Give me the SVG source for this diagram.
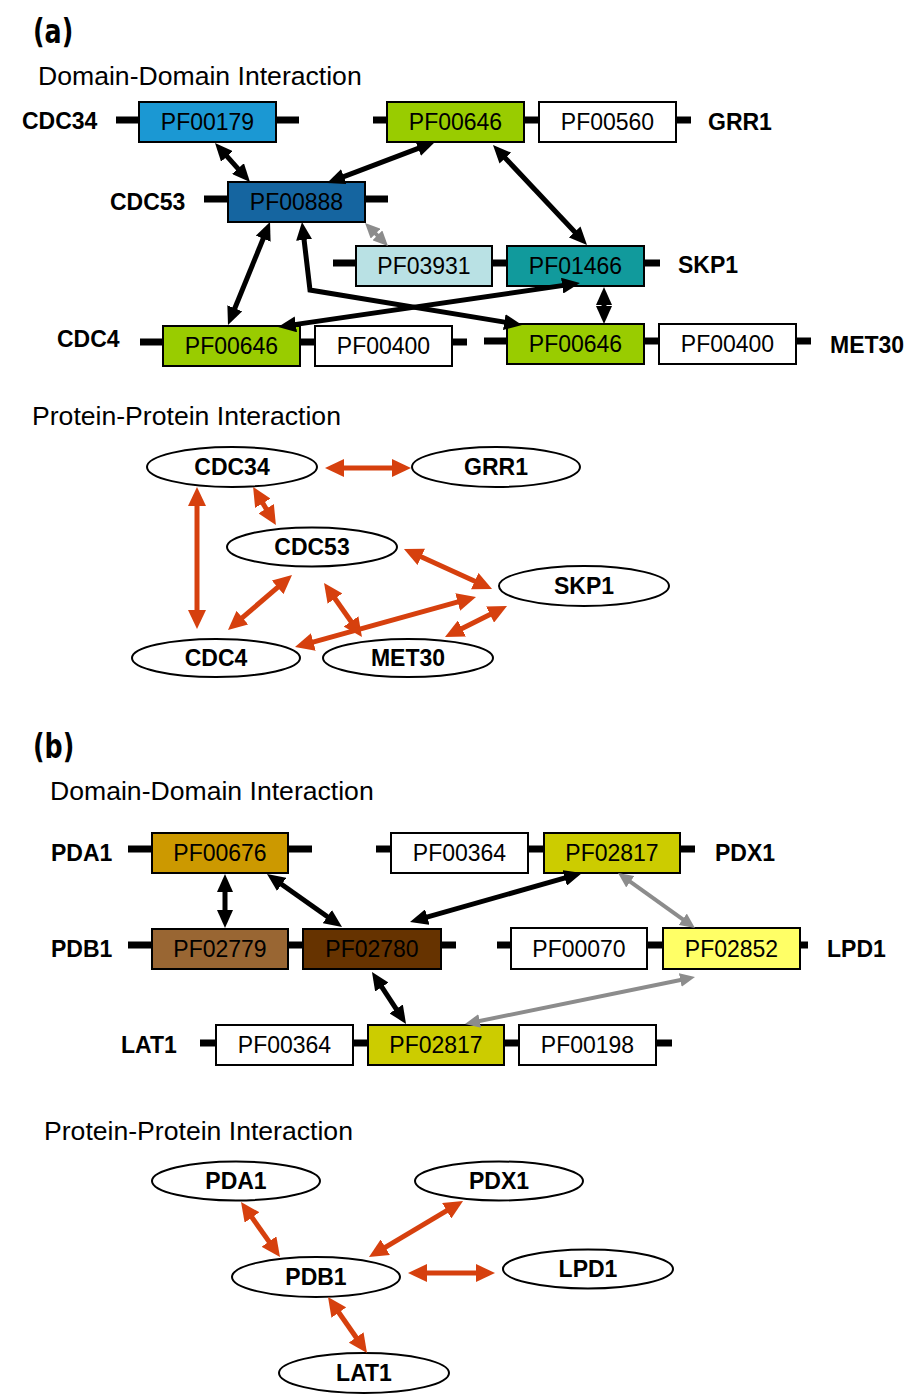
<svg xmlns="http://www.w3.org/2000/svg" width="914" height="1400" viewBox="0 0 914 1400">
<style>
.bg{fill:#fff}
.panel{font-family:"DejaVu Sans Condensed","DejaVu Sans",sans-serif;font-weight:bold;font-size:32px;fill:#000}
.title{font-family:"Liberation Sans",Arial,sans-serif;font-size:26.6px;fill:#000}
.lbl{font-family:"Liberation Sans",Arial,sans-serif;font-weight:bold;font-size:23px;fill:#000}
.dom{font-family:"Liberation Sans",Arial,sans-serif;font-size:23px;fill:#000;text-anchor:middle}
.plbl{font-family:"Liberation Sans",Arial,sans-serif;font-weight:bold;font-size:23px;fill:#000;text-anchor:middle}
.bb{fill:#000}
.box{stroke:#000;stroke-width:2}
.ell{fill:#fff;stroke:#000;stroke-width:2}
.ab{fill:none;stroke:#000;stroke-width:5;marker-start:url(#hb);marker-end:url(#hb)}
.ag{fill:none;stroke:#8c8c8c;stroke-width:4;marker-start:url(#hg);marker-end:url(#hg)}
.ao{fill:none;stroke:#d6400e;stroke-width:5;marker-start:url(#ho);marker-end:url(#ho)}
</style>
<defs>
<marker id="hb" viewBox="0 0 18 16" refX="5" refY="8" markerWidth="18" markerHeight="16" markerUnits="userSpaceOnUse" orient="auto-start-reverse"><path d="M0,0 L18,8 L0,16 z" fill="#000"/></marker>
<marker id="hg" viewBox="0 0 15 14" refX="4" refY="7" markerWidth="15" markerHeight="14" markerUnits="userSpaceOnUse" orient="auto-start-reverse"><path d="M0,0 L15,7 L0,14 z" fill="#8c8c8c"/></marker>
<marker id="ho" viewBox="0 0 19 18" refX="5" refY="9" markerWidth="19" markerHeight="18" markerUnits="userSpaceOnUse" orient="auto-start-reverse"><path d="M0,0 L19,9 L0,18 z" fill="#d6400e"/></marker>
</defs>
<rect class="bg" x="0" y="0" width="914" height="1400"/>

<text class="panel" transform="translate(33,43) scale(0.88,1.05)">(a)</text>
<text class="title" x="38" y="85">Domain-Domain Interaction</text>

<g id="CDC34">
<rect class="bb" x="116" y="116.5" width="183" height="7"/>
<rect class="box" x="139" y="102" width="137" height="40" fill="#1b98d3"/>
<text class="dom" x="207.5" y="130">PF00179</text>
<text class="lbl" x="22" y="129">CDC34</text>
</g>
<g id="GRR1">
<rect class="bb" x="373" y="116.5" width="318" height="7"/>
<rect class="box" x="387" y="102" width="137" height="40" fill="#99cc00"/>
<text class="dom" x="455.5" y="130">PF00646</text>
<rect class="box" x="539" y="102" width="137" height="40" fill="#fff"/>
<text class="dom" x="607.5" y="130">PF00560</text>
<text class="lbl" x="708" y="130">GRR1</text>
</g>
<g id="CDC53">
<rect class="bb" x="204" y="195.5" width="184" height="7"/>
<rect class="box" x="228" y="182" width="137" height="40" fill="#1565a0"/>
<text class="dom" x="296.5" y="210">PF00888</text>
<text class="lbl" x="110" y="210">CDC53</text>
</g>
<g id="SKP1">
<rect class="bb" x="333" y="259.5" width="327" height="7"/>
<rect class="box" x="356" y="246" width="136" height="40" fill="#b9e1e4"/>
<text class="dom" x="424" y="274">PF03931</text>
<rect class="box" x="507" y="246" width="137" height="40" fill="#119a9c"/>
<text class="dom" x="575.5" y="274">PF01466</text>
<text class="lbl" x="678" y="273">SKP1</text>
</g>
<g id="CDC4">
<rect class="bb" x="140" y="338.5" width="327" height="7"/>
<rect class="box" x="163" y="326" width="137" height="40" fill="#99cc00"/>
<text class="dom" x="231.5" y="354">PF00646</text>
<rect class="box" x="315" y="326" width="137" height="40" fill="#fff"/>
<text class="dom" x="383.5" y="354">PF00400</text>
<text class="lbl" x="57" y="347">CDC4</text>
</g>
<g id="MET30">
<rect class="bb" x="484" y="337.5" width="327" height="7"/>
<rect class="box" x="507" y="324" width="137" height="40" fill="#99cc00"/>
<text class="dom" x="575.5" y="352">PF00646</text>
<rect class="box" x="659" y="324" width="137" height="40" fill="#fff"/>
<text class="dom" x="727.5" y="352">PF00400</text>
<text class="lbl" x="830" y="353">MET30</text>
</g>

<g id="connectors-a-ddi">
<path class="ab" d="M223.7,152.7 L241.3,172.3"/>
<path class="ab" d="M422.8,146.6 L339.2,178.4"/>
<path class="ab" d="M501.9,154.5 L578.1,235.5"/>
<path class="ab" d="M265.1,234 L232.9,313"/>
<path class="ab" d="M303.5,234.9 L310,290 L509.2,322.9"/>
<path class="ab" d="M567.1,284.9 L290.9,325.1"/>
<path class="ab" d="M604,300 L604,311"/>
<path class="ag" d="M372.8,230.8 L380.2,238.2"/>
</g>

<text class="title" x="32" y="425">Protein-Protein Interaction</text>

<g id="p-CDC34"><ellipse class="ell" cx="232" cy="467" rx="85" ry="20"/><text class="plbl" x="232" y="475">CDC34</text></g>
<g id="p-GRR1"><ellipse class="ell" cx="496" cy="467" rx="84" ry="20"/><text class="plbl" x="496" y="475">GRR1</text></g>
<g id="p-CDC53"><ellipse class="ell" cx="312" cy="547" rx="85" ry="19.5"/><text class="plbl" x="312" y="555">CDC53</text></g>
<g id="p-SKP1"><ellipse class="ell" cx="584" cy="586" rx="85" ry="20"/><text class="plbl" x="584" y="594">SKP1</text></g>
<g id="p-CDC4"><ellipse class="ell" cx="216" cy="658" rx="84" ry="19"/><text class="plbl" x="216" y="666">CDC4</text></g>
<g id="p-MET30"><ellipse class="ell" cx="408" cy="658" rx="85" ry="19"/><text class="plbl" x="408" y="666">MET30</text></g>

<g id="connectors-a-ppi">
<path class="ao" d="M339,468 L397,468"/>
<path class="ao" d="M260.3,499 L268.7,513"/>
<path class="ao" d="M197,501 L197,615"/>
<path class="ao" d="M416.7,554.8 L479.3,583.2"/>
<path class="ao" d="M281.4,584.1 L238.6,620.9"/>
<path class="ao" d="M332.1,594.5 L353.9,625.5"/>
<path class="ao" d="M308.5,643.3 L462.5,600.7"/>
<path class="ao" d="M457.5,630.7 L494.5,612.3"/>
</g>

<text class="panel" transform="translate(33,758) scale(0.88,1.05)">(b)</text>
<text class="title" x="50" y="800">Domain-Domain Interaction</text>

<g id="PDA1">
<rect class="bb" x="128" y="845.5" width="184" height="7"/>
<rect class="box" x="152" y="833" width="136" height="40" fill="#cc9900"/>
<text class="dom" x="220" y="861">PF00676</text>
<text class="lbl" x="51" y="861">PDA1</text>
</g>
<g id="PDX1">
<rect class="bb" x="376" y="845.5" width="319" height="7"/>
<rect class="box" x="391" y="833" width="137" height="40" fill="#fff"/>
<text class="dom" x="459.5" y="861">PF00364</text>
<rect class="box" x="544" y="833" width="136" height="40" fill="#cccc00"/>
<text class="dom" x="612" y="861">PF02817</text>
<text class="lbl" x="715" y="861">PDX1</text>
</g>
<g id="PDB1">
<rect class="bb" x="128" y="941.5" width="328" height="7"/>
<rect class="box" x="152" y="929" width="136" height="40" fill="#996633"/>
<text class="dom" x="220" y="957">PF02779</text>
<rect class="box" x="303" y="929" width="138" height="40" fill="#663300"/>
<text class="dom" x="372" y="957">PF02780</text>
<text class="lbl" x="51" y="957">PDB1</text>
</g>
<g id="LPD1">
<rect class="bb" x="497" y="941.5" width="311" height="7"/>
<rect class="box" x="511" y="928" width="136" height="41" fill="#fff"/>
<text class="dom" x="579" y="957">PF00070</text>
<rect class="box" x="663" y="928" width="137" height="41" fill="#ffff66"/>
<text class="dom" x="731.5" y="957">PF02852</text>
<text class="lbl" x="827" y="957">LPD1</text>
</g>
<g id="LAT1">
<rect class="bb" x="200" y="1039.5" width="472" height="7"/>
<rect class="box" x="216" y="1025" width="137" height="40" fill="#fff"/>
<text class="dom" x="284.5" y="1053">PF00364</text>
<rect class="box" x="368" y="1025" width="136" height="40" fill="#cccc00"/>
<text class="dom" x="436" y="1053">PF02817</text>
<rect class="box" x="519" y="1025" width="137" height="40" fill="#fff"/>
<text class="dom" x="587.5" y="1053">PF00198</text>
<text class="lbl" x="121" y="1053">LAT1</text>
</g>

<g id="connectors-b-ddi">
<path class="ab" d="M225,887 L225,915"/>
<path class="ab" d="M277.6,881.5 L331.4,919.5"/>
<path class="ab" d="M569.5,876.6 L422.5,918.4"/>
<path class="ab" d="M379.1,982.9 L398.9,1013.1"/>
<path class="ag" d="M627,879.4 L686,921.6"/>
<path class="ag" d="M684.2,979.2 L475.8,1021.8"/>
</g>

<text class="title" x="44" y="1140">Protein-Protein Interaction</text>

<g id="p-PDA1"><ellipse class="ell" cx="236" cy="1181" rx="84" ry="19.5"/><text class="plbl" x="236" y="1189">PDA1</text></g>
<g id="p-PDX1"><ellipse class="ell" cx="499" cy="1181" rx="84" ry="19.5"/><text class="plbl" x="499" y="1189">PDX1</text></g>
<g id="p-PDB1"><ellipse class="ell" cx="316" cy="1277" rx="84" ry="20"/><text class="plbl" x="316" y="1285">PDB1</text></g>
<g id="p-LPD1"><ellipse class="ell" cx="588" cy="1269" rx="85" ry="19.5"/><text class="plbl" x="588" y="1277">LPD1</text></g>
<g id="p-LAT1"><ellipse class="ell" cx="364" cy="1373" rx="85" ry="20"/><text class="plbl" x="364" y="1381">LAT1</text></g>

<g id="connectors-b-ppi">
<path class="ao" d="M249.1,1213.4 L271.9,1245.6"/>
<path class="ao" d="M451,1208.2 L381,1249.8"/>
<path class="ao" d="M422,1273 L481,1273"/>
<path class="ao" d="M336,1308.5 L359,1341.5"/>
</g>
</svg>
